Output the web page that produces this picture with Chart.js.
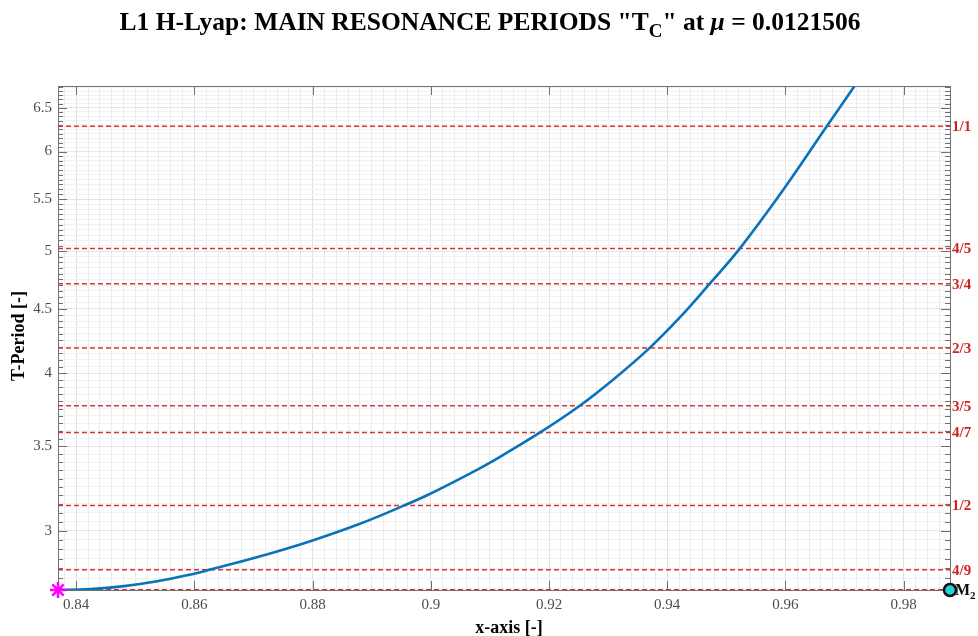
<!DOCTYPE html>
<html>
<head>
<meta charset="utf-8">
<script src="https://cdn.jsdelivr.net/npm/chart.js@4.4.0/dist/chart.umd.min.js"></script>
<style>
  html, body { margin: 0; padding: 0; background: #fff; }
  #wrap { width: 978px; height: 636px; }
</style>
</head>
<body>
<div id="wrap"><canvas id="chart" width="978" height="636"></canvas></div>
<script>
// L1 horizontal Lyapunov family: orbit period vs. x-crossing
const familyX = [0.83692, 0.8424, 0.8481, 0.8537, 0.8594, 0.8625, 0.8713, 0.8800, 0.8880,
  0.8955, 0.9000, 0.9070, 0.9101, 0.9185, 0.9252, 0.9311, 0.9370, 0.9421, 0.9472,
  0.9523, 0.9597, 0.9670, 0.9717];
const familyPeriod = [2.6915, 2.6960, 2.7105, 2.7345, 2.7692, 2.7925, 2.8640, 2.9470, 3.0380,
  3.1416, 3.2110, 3.3370, 3.3990, 3.5904, 3.7699, 3.9630, 4.1888, 4.4280, 4.7124,
  5.0265, 5.6000, 6.2832, 6.7640];

// resonance periods T = 2*pi*p/q
const resonanceLabels = ["1/1", "4/5", "3/4", "2/3", "3/5", "4/7", "1/2", "4/9", ""];
const resonancePeriods = [6.2832, 5.0265, 4.7124, 4.1888, 3.7699, 3.5904, 3.1416, 2.7925, 2.6928];

const l1Point = { x: 0.83692, y: 2.6915 };
const m2Point = { x: 0.98785, y: 2.6915 };

const xMin = 0.83692;
const xMax = 0.98785;
const yMin = 2.6915;
const yMax = 6.764;

const serif = "'Liberation Serif', 'Times New Roman', serif";

function isMultiple(v, step) {
  const r = v / step;
  return Math.abs(r - Math.round(r)) < 1e-6;
}

function stepTicks(from, to, step) {
  const ticks = [];
  const n = Math.round((to - from) / step);
  for (let i = 0; i <= n; i++) {
    ticks.push({ value: +(from + i * step).toFixed(4) });
  }
  return ticks;
}

const curveDataset = {
  label: "T",
  data: familyX.map((x, i) => ({ x: x, y: familyPeriod[i] })),
  borderColor: "#0a72b8",
  borderWidth: 2.6,
  pointRadius: 0,
  tension: 0.4,
  order: 1,
};

const resonanceDatasets = resonancePeriods.map((t, i) => ({
  label: resonanceLabels[i],
  data: [{ x: xMin, y: t }, { x: xMax, y: t }],
  borderColor: "rgb(218, 48, 48)",
  borderWidth: 1.5,
  borderDash: [5, 3],
  pointRadius: 0,
  order: 2,
}));

const l1Dataset = {
  label: "L1",
  data: [l1Point],
  showLine: false,
  pointStyle: "star",
  pointRadius: 8,
  borderColor: "#ff00ff",
  borderWidth: 2.5,
  clip: false,
  order: 0,
};

const m2Dataset = {
  label: "M2",
  data: [m2Point],
  showLine: false,
  pointStyle: "circle",
  pointRadius: 6,
  backgroundColor: "#1fd6e0",
  borderColor: "#111",
  borderWidth: 2.5,
  clip: false,
  order: 0,
};

// box, inward tick marks, titles and side labels
const framePlugin = {
  id: "frame",
  beforeDatasetsDraw(chart) {
    const ctx = chart.ctx;
    const a = chart.chartArea;
    const xs = chart.scales.x;
    const ys = chart.scales.y;
    ctx.save();
    ctx.strokeStyle = "#707070";
    ctx.lineWidth = 1;
    ctx.beginPath();
    ys.ticks.forEach((t) => {
      const y = Math.round(ys.getPixelForValue(t.value)) + 0.5;
      const len = isMultiple(t.value, 0.5) ? 9 : 5;
      ctx.moveTo(a.left, y);
      ctx.lineTo(a.left + len, y);
      ctx.moveTo(a.right, y);
      ctx.lineTo(a.right - len, y);
    });
    xs.ticks.forEach((t) => {
      if (!isMultiple(t.value, 0.02)) return;
      const x = Math.round(xs.getPixelForValue(t.value)) + 0.5;
      ctx.moveTo(x, a.bottom);
      ctx.lineTo(x, a.bottom - 9);
      ctx.moveTo(x, a.top);
      ctx.lineTo(x, a.top + 9);
    });
    ctx.stroke();
    ctx.strokeRect(a.left + 0.5, a.top + 0.5, a.right - a.left, a.bottom - a.top);
    ctx.restore();
  },
  afterDraw(chart) {
    const ctx = chart.ctx;
    const a = chart.chartArea;
    const ys = chart.scales.y;
    ctx.save();

    // title with subscript and greek mu
    const runs = [
      { text: 'L1 H-Lyap: MAIN RESONANCE PERIODS "T', font: "bold 25.5px " + serif, dy: 0 },
      { text: "C", font: "bold 19px " + serif, dy: 7 },
      { text: '" at ', font: "bold 25.5px " + serif, dy: 0 },
      { text: "\u03bc", font: "italic bold 25.5px " + serif, dy: 0 },
      { text: " = 0.0121506", font: "bold 25.5px " + serif, dy: 0 },
    ];
    let total = 0;
    runs.forEach((r) => {
      ctx.font = r.font;
      r.w = ctx.measureText(r.text).width;
      total += r.w;
    });
    let x = 490 - total / 2;
    ctx.fillStyle = "#000";
    ctx.textBaseline = "alphabetic";
    ctx.textAlign = "left";
    runs.forEach((r) => {
      ctx.font = r.font;
      ctx.fillText(r.text, x, 30 + r.dy);
      x += r.w;
    });

    // axis titles
    ctx.font = "bold 18px " + serif;
    ctx.textAlign = "center";
    ctx.textBaseline = "middle";
    ctx.fillText("x-axis [-]", 509, 628);
    ctx.save();
    ctx.translate(19, 336);
    ctx.rotate(-Math.PI / 2);
    ctx.fillText("T-Period [-]", 0, 0);
    ctx.restore();

    // resonance names on the right
    ctx.font = "bold 15px " + serif;
    ctx.fillStyle = "#d41f1f";
    ctx.textAlign = "left";
    ctx.textBaseline = "middle";
    resonancePeriods.forEach((t, i) => {
      if (!resonanceLabels[i]) return;
      ctx.fillText(resonanceLabels[i], a.right + 2, ys.getPixelForValue(t) + 1);
    });

    // primary label
    const py = ys.getPixelForValue(m2Point.y);
    ctx.fillStyle = "#111";
    ctx.textBaseline = "alphabetic";
    ctx.font = "bold 16px " + serif;
    ctx.fillText("M", a.right + 5, py + 5);
    const mw = ctx.measureText("M").width;
    ctx.font = "bold 11px " + serif;
    ctx.fillText("2", a.right + 5 + mw, py + 9);
    ctx.restore();
  },
};

const ctx = document.getElementById("chart").getContext("2d");
new Chart(ctx, {
  type: "line",
  data: {
    datasets: [l1Dataset, m2Dataset, curveDataset].concat(resonanceDatasets),
  },
  options: {
    responsive: false,
    animation: false,
    devicePixelRatio: 1,
    layout: { padding: { top: 86, right: 28, left: 0, bottom: 0 } },
    plugins: {
      legend: { display: false },
      tooltip: { enabled: false },
    },
    scales: {
      x: {
        type: "linear",
        min: xMin,
        max: xMax,
        afterBuildTicks: (scale) => {
          scale.ticks = stepTicks(0.838, 0.986, 0.002);
        },
        afterFit: (scale) => {
          scale.height = 46;
        },
        ticks: {
          autoSkip: false,
          maxRotation: 0,
          padding: 6,
          color: "#4d4d4d",
          font: { family: serif, size: 15 },
          callback: (v) => (isMultiple(v, 0.02) ? String(Number(v.toFixed(2))) : ""),
        },
        grid: {
          drawTicks: false,
          color: (c) => (c.tick && isMultiple(c.tick.value, 0.02) ? "#dfe1e5" : "#eaecf0"),
        },
        border: { display: false },
      },
      y: {
        type: "logarithmic",
        min: yMin,
        max: yMax,
        afterBuildTicks: (scale) => {
          scale.ticks = stepTicks(2.7, 6.75, 0.05);
        },
        afterFit: (scale) => {
          scale.width = 58;
        },
        ticks: {
          autoSkip: false,
          padding: 6,
          color: "#4d4d4d",
          font: { family: serif, size: 15 },
          callback: (v) => (isMultiple(v, 0.5) ? String(v) : ""),
        },
        grid: {
          drawTicks: false,
          color: (c) => (c.tick && isMultiple(c.tick.value, 0.5) ? "#e3e5e9" : "#eff1f4"),
        },
        border: { display: false },
      },
    },
  },
  plugins: [framePlugin],
});
</script>
</body>
</html>
